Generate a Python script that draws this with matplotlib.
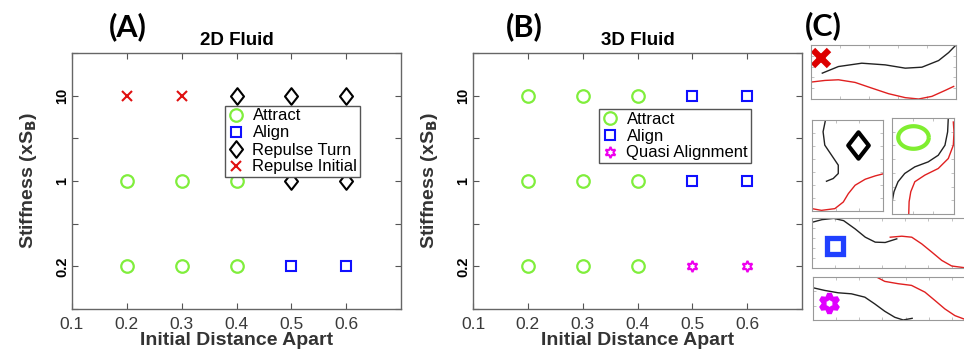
import numpy as np
import matplotlib
matplotlib.use('Agg')
import matplotlib.pyplot as plt
from matplotlib.path import Path
from matplotlib.lines import Line2D

plt.rcParams['font.family'] = ['Liberation Sans', 'DejaVu Sans']

# ---- data ----
dist = [0.2, 0.3, 0.4, 0.5, 0.6]
stiff_labels = ['0.2', '1', '10']
xticks = [0.1, 0.2, 0.3, 0.4, 0.5, 0.6]

# outcome per stiffness row (0.2, 1, 10) and distance
fluid2d = [['Attract', 'Attract', 'Attract', 'Align', 'Align'],
           ['Attract', 'Attract', 'Attract', 'Repulse Turn', 'Repulse Turn'],
           ['Repulse Initial', 'Repulse Initial', 'Repulse Turn', 'Repulse Turn', 'Repulse Turn']]
fluid3d = [['Attract', 'Attract', 'Attract', 'Quasi Alignment', 'Quasi Alignment'],
           ['Attract', 'Attract', 'Attract', 'Align', 'Align'],
           ['Attract', 'Attract', 'Attract', 'Align', 'Align']]
legend2d = ['Attract', 'Align', 'Repulse Turn', 'Repulse Initial']
legend3d = ['Attract', 'Align', 'Quasi Alignment']

# snapshot curves for panel (C), normalised inset coords
c1_black_x = [0.078, 0.189, 0.350, 0.512, 0.650, 0.765, 0.880, 0.949, 1.0]
c1_black_y = [0.479, 0.601, 0.663, 0.632, 0.571, 0.589, 0.712, 0.859, 1.0]
c1_red_x = [0.0, 0.097, 0.189, 0.304, 0.419, 0.535, 0.650, 0.742, 0.834, 0.926, 0.984]
c1_red_y = [0.313, 0.344, 0.356, 0.307, 0.202, 0.098, 0.025, 0.0, 0.049, 0.160, 0.233]
c2_black_x = [0.190, 0.156, 0.180, 0.275, 0.370, 0.370, 0.299, 0.204]
c2_black_y = [1.0, 0.871, 0.724, 0.614, 0.504, 0.412, 0.357, 0.327]
c2_red_x = [0.0, 0.133, 0.322, 0.441, 0.512, 0.607, 0.749, 0.891, 1.0]
c2_red_y = [0.026, 0.007, 0.026, 0.099, 0.191, 0.283, 0.349, 0.386, 0.408]
c3_black_x = [0.908, 0.897, 0.854, 0.746, 0.584, 0.368, 0.205, 0.097, 0.032, 0.0]
c3_black_y = [1.0, 0.855, 0.716, 0.612, 0.543, 0.491, 0.422, 0.336, 0.232, 0.121]
c3_red_x = [0.989, 1.0, 0.989, 0.908, 0.746, 0.530, 0.368, 0.303, 0.276, 0.270]
c3_red_y = [0.958, 0.855, 0.716, 0.578, 0.474, 0.405, 0.336, 0.232, 0.128, 0.0]
c4_black_x = [0.0, 0.061, 0.133, 0.194, 0.265, 0.327, 0.388, 0.449, 0.520]
c4_black_y = [0.914, 0.967, 0.993, 0.947, 0.781, 0.616, 0.517, 0.510, 0.583]
c4_red_x = [0.480, 0.551, 0.612, 0.673, 0.735, 0.796, 0.857, 0.933]
c4_red_y = [0.616, 0.636, 0.616, 0.483, 0.318, 0.152, 0.040, 0.007]
c5_black_x = [0.0, 0.072, 0.155, 0.237, 0.320, 0.381, 0.443, 0.505, 0.557, 0.612]
c5_black_y = [0.75, 0.688, 0.633, 0.609, 0.531, 0.375, 0.203, 0.063, 0.0, 0.039]
c5_red_x = [0.392, 0.443, 0.526, 0.608, 0.691, 0.753, 0.814, 0.876, 0.932]
c5_red_y = [1.0, 0.898, 0.844, 0.805, 0.648, 0.453, 0.258, 0.102, 0.023]

# ---- marker styles ----
diamond = Path([(0, 1), (0.78, 0), (0, -1), (-0.78, 0), (0, 1)],
               [Path.MOVETO, Path.LINETO, Path.LINETO, Path.LINETO, Path.CLOSEPOLY])
t = np.linspace(0, 2 * np.pi, 60)
ellipse = Path(np.column_stack([np.cos(t), 0.74 * np.sin(t)]))

styles = {
    'Attract': dict(marker='o', ms=9, mec='#80ee3c', mew=1.6),
    'Align': dict(marker='s', ms=7, mec='#1010ff', mew=1.5),
    'Repulse Turn': dict(marker=diamond, ms=12, mec='black', mew=1.5),
    'Repulse Initial': dict(marker='x', ms=6.5, mec='#e01010', mew=1.5),
    'Quasi Alignment': dict(marker=(6, 1, 0), ms=8, mec='#ee00ee', mew=1.5),
}

W, H = 964, 353
fig = plt.figure(figsize=(W / 100, H / 100), dpi=100)


def phase_panel(rect, grid, labels, title, letter, letter_x, leg_xy):
    ax = fig.add_axes(rect)
    for r, row in enumerate(grid):
        for d, outcome in zip(dist, row):
            ax.plot(d, r + 1, ls='none', mfc='none', **styles[outcome])
    ax.set_xlim(0.1, 0.7)
    ax.set_ylim(0.5, 3.5)
    ax.set_xticks(xticks)
    ax.set_xticklabels([f'{v:.1f}' for v in xticks], fontsize=12.5, color='#3a3a3a')
    ax.set_yticks([0.5, 1, 1.5, 2, 2.5, 3, 3.5])
    ax.set_yticklabels(['', stiff_labels[0], '', stiff_labels[1], '', stiff_labels[2], ''],
                       rotation=90, va='center', fontsize=10.5, fontweight='bold')
    ax.tick_params(direction='in', length=4, width=0.8, color='#555555',
                   top=True, right=True)
    ax.tick_params(axis='y', pad=2)
    ax.tick_params(axis='x', pad=6)
    for s in ax.spines.values():
        s.set_color('#666666')
        s.set_linewidth(1.0)
    ax.set_xlabel('Initial Distance Apart', fontsize=14, fontweight='bold',
                  color='#333333', labelpad=0)
    ax.set_ylabel(r'Stiffness (xS$_\mathbf{B}$)', fontsize=14, fontweight='bold',
                  color='#333333', labelpad=12)
    ax.set_title(title, fontsize=13.5, fontweight='bold', pad=6)
    handles = [Line2D([], [], ls='none', mfc='none', **styles[k]) for k in labels]
    leg = ax.legend(handles, labels, loc='upper left',
                    bbox_to_anchor=(leg_xy[0] / W, 1 - leg_xy[1] / H),
                    bbox_transform=fig.transFigure, borderaxespad=0, fontsize=12,
                    labelspacing=0.12, handlelength=1.0, handletextpad=0.5,
                    borderpad=0.15, fancybox=False, framealpha=1)
    leg.get_frame().set_edgecolor('#555555')
    leg.get_frame().set_linewidth(1.0)
    fig.text(letter_x / W, 1 - 27 / H, letter, fontsize=22, fontweight='bold',
             family=['Lato', 'DejaVu Sans'], ha='center', va='center')
    return ax


phase_panel([72 / W, 1 - 309 / H, 329 / W, 256 / H], fluid2d, legend2d,
            '2D Fluid', '(A)', 128, (225, 106))
phase_panel([473 / W, 1 - 309 / H, 329 / W, 256 / H], fluid3d, legend3d,
            '3D Fluid', '(B)', 524, (599, 109))
fig.text(823 / W, 1 - 26 / H, '(C)', fontsize=22, fontweight='bold',
         family=['Lato', 'DejaVu Sans'], ha='center', va='center')


def inset(px, bx, by, rx, ry, icon, ix, iy, nx=6, ny=5):
    x0, y0, x1, y1 = px
    a = fig.add_axes([x0 / W, 1 - y1 / H, (x1 - x0) / W, (y1 - y0) / H])
    a.plot(bx, by, color='#222222', lw=1.0)
    a.plot(rx, ry, color='#e02020', lw=1.0)
    a.plot(ix, iy, ls='none', **icon)
    a.set_xlim(0, 1)
    a.set_ylim(0, 1)
    a.set_xticks(np.linspace(0, 1, nx))
    a.set_yticks(np.linspace(0, 1, ny))
    a.tick_params(direction='in', length=2, width=0.5, color='#aaaaaa', top=True,
                  right=True, labelbottom=False, labelleft=False)
    for s in a.spines.values():
        s.set_color('#999999')
        s.set_linewidth(0.8)
    return a


inset((811, 45, 956, 99), c1_black_x, c1_black_y, c1_red_x, c1_red_y,
      dict(marker='x', ms=12, mec='#dd0000', mew=4.5), 0.069, 0.767, nx=6, ny=6)
inset((812, 120, 883, 211), c2_black_x, c2_black_y, c2_red_x, c2_red_y,
      dict(marker=diamond, ms=19, mec='black', mfc='white', mew=3), 0.654, 0.724,
      nx=4, ny=8)
inset((892, 118, 954, 214), c3_black_x, c3_black_y, c3_red_x, c3_red_y,
      dict(marker=ellipse, ms=22, mec='#80ee30', mfc='none', mew=3), 0.34, 0.80,
      nx=4, ny=8)
inset((812, 218, 975, 268), c4_black_x, c4_black_y, c4_red_x, c4_red_y,
      dict(marker='s', ms=12, mec='#2040ff', mfc='white', mew=3.8), 0.139, 0.437,
      nx=8, ny=6)
inset((813, 277, 975, 320), c5_black_x, c5_black_y, c5_red_x, c5_red_y,
      dict(marker=(6, 1, 0), ms=14, mec='#e000ff', mfc='white', mew=3.5), 0.097, 0.39,
      nx=8, ny=4)

fig.savefig('out.png', dpi=100)
